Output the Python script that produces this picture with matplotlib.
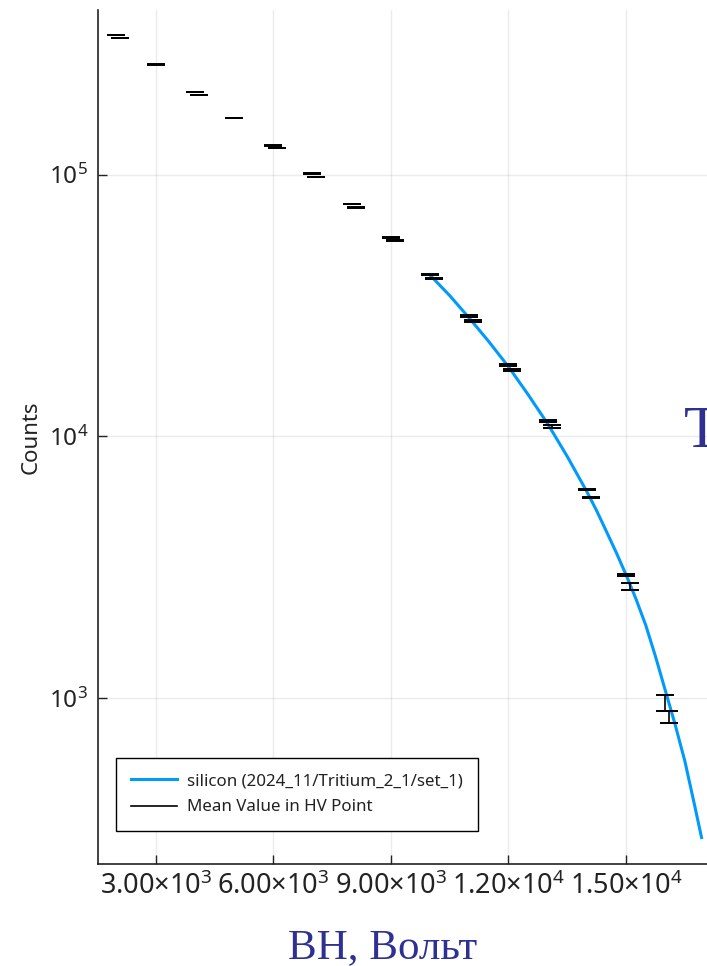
import matplotlib
matplotlib.use("Agg")
import matplotlib.pyplot as plt
from matplotlib.lines import Line2D
from matplotlib.ticker import FixedLocator, FuncFormatter, NullLocator, LogLocator

plt.rcParams["font.family"] = ["Noto Sans", "DejaVu Sans"]
plt.rcParams["mathtext.fontset"] = "dejavusans"

# HV points, first measurement in each point
hv_a = [2000, 3000, 4000, 5000, 6000, 7000, 8000, 9000, 10000,
        11000, 12000, 13000, 14000, 15000, 16000]
counts_a = [341700, 263400, 206500, 164300, 129300, 100700, 77170, 57390, 41600,
            28840, 18750, 11460, 6260, 2950, 963]
err_a = [700, 600, 500, 450, 400, 350, 300, 250, 220,
         180, 150, 110, 40, 25, 68]

# second measurement (slightly shifted HV)
hv_b = [2100, 4100, 6100, 7100, 8100, 9100, 10100,
        11100, 12100, 13100, 14100, 15100, 16100]
counts_b = [331900, 201100, 126200, 97800, 74960, 55750, 40020,
            27600, 17940, 10900, 5840, 2680, 850]
err_b = [700, 500, 400, 350, 300, 250, 220,
         180, 150, 110, 35, 88, 46]

# fitted spectrum curve
fit_hv = [10000, 10500, 11000, 11500, 12000, 12500, 13000, 13500, 14000,
          14250, 14500, 14750, 15000, 15250, 15500, 15750, 16000,
          16250, 16500, 16750, 16925]
fit_counts = [41300, 34500, 28300, 23000, 18450, 14450, 11170, 8380, 6150,
              5200, 4330, 3600, 2960, 2400, 1905, 1445, 1072,
              795, 575, 389, 294]

xticks = [3000, 6000, 9000, 12000, 15000]
fit_label = "silicon (2024_11/Tritium_2_1/set_1)"
mean_label = "Mean Value in HV Point"


def sci_fmt(v, pos):
    exp = len(str(int(v))) - 1
    mant = v / 10 ** exp
    return r"$\mathdefault{%.2f{\times}10^{%d}}$" % (mant, exp)


fig = plt.figure(figsize=(7.07, 9.66), dpi=100)
ax = fig.add_axes([0.1386, 0.1056, 0.8614, 0.884])

blue = "#009AFA"
ax.plot(fit_hv, fit_counts, color=blue, lw=2.2, zorder=2)
ax.errorbar(hv_a, counts_a, yerr=err_a, fmt="none", ecolor="black",
            elinewidth=1.2, capsize=6.8, capthick=1.4, zorder=3)
ax.errorbar(hv_b, counts_b, yerr=err_b, fmt="none", ecolor="black",
            elinewidth=1.2, capsize=6.8, capthick=1.4, zorder=3)

ax.set_yscale("log")
ax.set_xlim(1528, 17064)
ax.set_ylim(233, 424700)

ax.xaxis.set_major_locator(FixedLocator(xticks))
ax.xaxis.set_major_formatter(FuncFormatter(sci_fmt))
ax.yaxis.set_major_locator(LogLocator(base=10))
ax.yaxis.set_minor_locator(NullLocator())
ax.xaxis.set_minor_locator(NullLocator())

for s in ["top", "right"]:
    ax.spines[s].set_visible(False)
for s in ["left", "bottom"]:
    ax.spines[s].set_color("#222222")
    ax.spines[s].set_linewidth(1.2)

ax.tick_params(direction="in", length=6.5, width=1, color="#222222",
               labelsize=17.5, pad=7, labelcolor="#222222")
ax.tick_params(axis="x", labelsize=19.5, pad=6)
ax.grid(True, color="black", alpha=0.08, lw=1)
ax.set_axisbelow(True)

ax.set_ylabel("Counts", fontsize=16, color="#222222", labelpad=5)

handles = [Line2D([], [], color=blue, lw=2.2),
           Line2D([], [], color="black", lw=1.2)]
leg = ax.legend(handles, [fit_label, mean_label], loc="lower left",
                bbox_to_anchor=(0.029, 0.039), borderaxespad=0,
                fancybox=False, edgecolor="black", framealpha=1,
                fontsize=12.2, handlelength=2.75, handletextpad=0.55,
                borderpad=0.9, labelspacing=0.6)
leg.get_frame().set_linewidth(1.0)
for t in leg.get_texts():
    t.set_color("#222222")

slide_blue = "#2E3192"
fig.text(383 / 707, 8 / 966, "ВН, Вольт", ha="center", va="baseline",
         family="Liberation Serif", fontsize=31, color=slide_blue)
fig.text(684 / 707, (966 - 447) / 966, "T", ha="left", va="baseline",
         family="Liberation Serif", fontsize=43, color=slide_blue)

fig.savefig("out.png", dpi=100)
